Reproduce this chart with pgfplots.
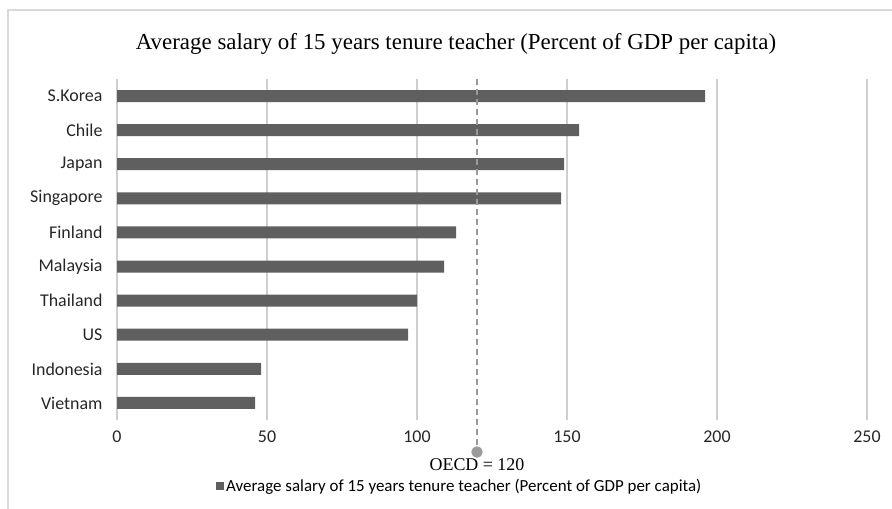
\documentclass[border=0pt]{standalone}
\usepackage{fontspec}
\setmainfont{Carlito}
\newfontfamily\timesf{Liberation Serif}
\usepackage{pgfplots}
\pgfplotsset{compat=1.18}
\definecolor{barc}{HTML}{5F5F5F}
\definecolor{gridc}{HTML}{CFCFCF}
\definecolor{oecdc}{HTML}{9A9A9A}
\definecolor{framec}{HTML}{D9D9D9}
\begin{document}
\begin{tikzpicture}[x=1bp,y=1bp]
\path[use as bounding box] (0,0) rectangle (892,509);
\draw[framec, line width=2bp] (8,0) -- (8,499) -- (892,499);
\node[font=\timesf\fontsize{23}{26}\selectfont] at (456,465) {Average salary of 15 years tenure teacher (Percent of GDP per capita)};
\begin{axis}[
  at={(117bp,89bp)}, anchor=south west,
  scale only axis, width=750bp, height=341bp,
  xmin=0, xmax=250, ymin=-0.5, ymax=9.5,
  xtick={0,50,100,150,200,250},
  ytick={0,...,9},
  yticklabels={Vietnam,Indonesia,US,Thailand,Malaysia,Finland,Singapore,Japan,Chile,S.Korea},
  xmajorgrids, major grid style={gridc, line width=1.2bp},
  axis line style={draw=none},
  major tick length=0pt,
  /pgf/number format/assume math mode=true,
  tick label style={font=\fontsize{18}{20}\selectfont, text=black!85},
  yticklabel style={xshift=-11bp},
  xticklabel style={yshift=-7bp},
  clip=false,
  legend style={at={(0.457,-0.194)}, anchor=center, draw=none, fill=none,
    font=\fontsize{17}{19}\selectfont, inner sep=0pt},
  legend cell align=left,
]
\addplot[xbar, fill=barc, draw=none, bar width=12bp,
  legend image code/.code={\fill[barc] (0bp,-4bp) rectangle (8bp,4bp);}]
  coordinates {(46,0) (48,1) (97,2) (100,3) (109,4) (113,5) (148,6) (149,7) (154,8) (196,9)};
\addlegendentry{Average salary of 15 years tenure teacher (Percent of GDP per capita)}
\addplot[oecdc, dash pattern=on 6bp off 4bp, line width=1.4bp, mark=*, mark size=5bp, mark indices={2},
  mark options={solid, fill=oecdc, draw=oecdc}, forget plot]
  coordinates {(120,9.5) (120,-1.44)};
\node[font=\timesf\fontsize{18}{20}\selectfont] at (axis cs:120,-1.82) {OECD = 120};
\end{axis}
\end{tikzpicture}
\end{document}
